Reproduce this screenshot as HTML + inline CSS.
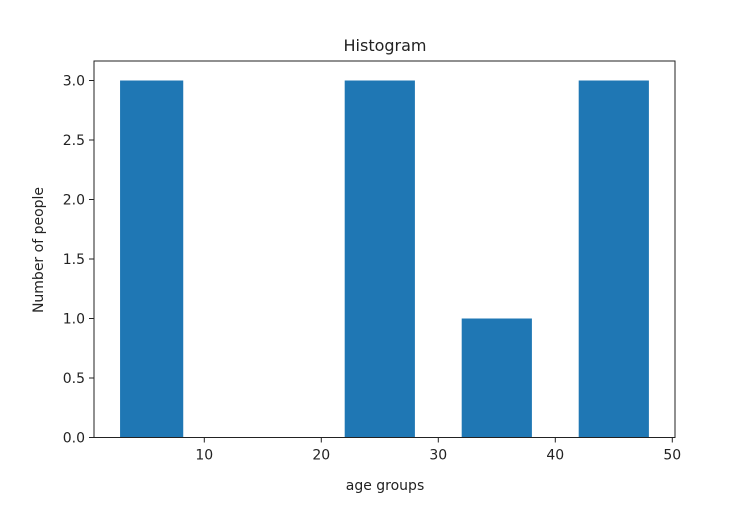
<!DOCTYPE html>
<html><head><meta charset="utf-8"><style>
body{margin:0;background:#fff;}
svg text{font-family:"DejaVu Sans","Liberation Sans",sans-serif;fill:#222;}
</style></head><body>
<svg id="chart" width="750" height="500">
<text x="385" y="51" font-size="16" text-anchor="middle">Histogram</text>
<g id="bars"></g>
<g id="axes"></g>
<text x="385" y="490" font-size="14" text-anchor="middle">age groups</text>
<text transform="translate(43,250) rotate(-90)" font-size="14" text-anchor="middle">Number of people</text>
</svg>
<script>
const binStarts=[2.8,22,32,42];
const binEnds=[8.2,28,38,48];
const counts=[3,3,1,3];
const xTicks=[10,20,30,40,50];
const yTicks=[0,0.5,1.0,1.5,2.0,2.5,3.0];
const yTickLabels=["0.0","0.5","1.0","1.5","2.0","2.5","3.0"];
const L=94,R=675,T=61,B=437.5;
const xs=v=>87.3+v*11.7;
const ys=v=>B-v*119;
const NS="http://www.w3.org/2000/svg";
const bars=document.getElementById('bars'),axes=document.getElementById('axes');
function mk(tag,attrs,parent){const e=document.createElementNS(NS,tag);for(const k in attrs)e.setAttribute(k,attrs[k]);parent.appendChild(e);return e;}
counts.forEach((c,i)=>{
 const r=mk('rect',{x:xs(binStarts[i]),y:ys(c),width:xs(binEnds[i])-xs(binStarts[i]),height:B-ys(c),fill:'#1f77b4'},bars);
 
 
});
const frame=mk('rect',{x:L,y:T,width:R-L,height:B-T,fill:'none',stroke:'#222','stroke-width':1},axes);


xTicks.forEach(t=>{
 const x=xs(t);
 mk('line',{x1:x,x2:x,y1:B,y2:B+5,stroke:'#222'},axes);
 const tx=mk('text',{x:x,y:B+22,'font-size':14,'text-anchor':'middle'},axes);
 tx.textContent=t;
 
 
});
yTicks.forEach((t,i)=>{
 const y=ys(t);
 mk('line',{x1:L-5,x2:L,y1:y,y2:y,stroke:'#222'},axes);
 const tx=mk('text',{x:L-9,y:y+5,'font-size':14,'text-anchor':'end'},axes);
 tx.textContent=yTickLabels[i];
 
 
});
</script>
</body></html>
